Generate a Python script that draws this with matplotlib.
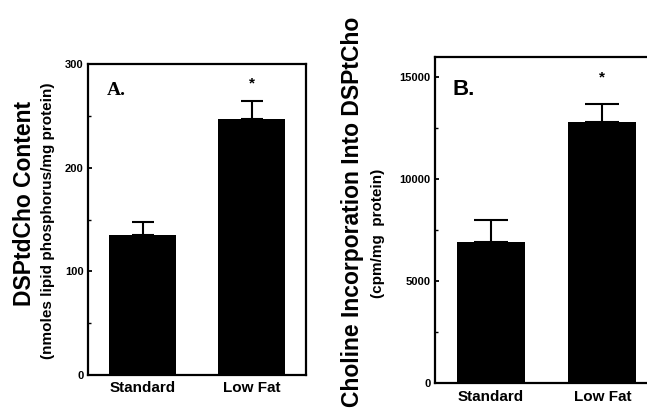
import matplotlib
matplotlib.use("Agg")
import matplotlib.pyplot as plt
from matplotlib.ticker import MultipleLocator

plt.rcParams['font.family'] = ['Liberation Sans', 'DejaVu Sans']
plt.rcParams['font.weight'] = 'bold'

groups = ['Standard', 'Low Fat']

# panel A: DSPtdCho content
content = [135, 247]
content_err = [13, 17]

# panel B: choline incorporation
incorp = [6900, 12800]
incorp_err = [1100, 900]

W, H = 647, 412
fig = plt.figure(figsize=(W / 100, H / 100), dpi=100)


def style(ax, major, minor, pad_x):
    for s in ax.spines.values():
        s.set_linewidth(1.6)
    ax.yaxis.set_major_locator(MultipleLocator(major))
    ax.yaxis.set_minor_locator(MultipleLocator(minor))
    ax.tick_params(axis='y', which='major', direction='in', length=3, width=1.3,
                   labelsize=8, pad=3)
    ax.tick_params(axis='y', which='minor', direction='in', length=2, width=1)
    ax.tick_params(axis='x', length=0, labelsize=11, pad=pad_x)
    for lab in ax.get_yticklabels() + ax.get_xticklabels():
        lab.set_fontweight('bold')
    ax.set_xlim(-0.5, 1.5)


axA = fig.add_axes([88 / W, 1 - 375 / H, 218 / W, 311 / H])
axA.bar(range(2), content, width=0.62, color='black', zorder=3)
axA.errorbar(range(2), content, yerr=[[0, 0], content_err], fmt='none',
             ecolor='black', elinewidth=1.5, capsize=8, capthick=1.5, zorder=2)
axA.set_ylim(0, 300)
axA.set_xticks(range(2))
axA.set_xticklabels(groups)
style(axA, 100, 50, 4)
axA.text(0.085, 0.916, 'A.', transform=axA.transAxes, fontsize=14, va='center',
         fontweight='bold', family='Liberation Serif')
axA.text(1, 281, '*', ha='center', va='center', fontsize=11, fontweight='bold')

fig.text(25 / W, 1 - 203 / H, 'DSPtdCho Content', rotation=90, ha='center',
         va='center', fontsize=16.5, fontweight='bold')
fig.text(48 / W, 1 - 221 / H, '(nmoles lipid phosphorus/mg protein)', rotation=90,
         ha='center', va='center', fontsize=11, fontweight='bold')

axB = fig.add_axes([435 / W, 1 - 383 / H, 223 / W, 326 / H])
axB.bar(range(2), incorp, width=0.61, color='black', zorder=3)
axB.errorbar(range(2), incorp, yerr=[[0, 0], incorp_err], fmt='none',
             ecolor='black', elinewidth=1.5, capsize=12, capthick=1.5, zorder=2)
axB.set_ylim(0, 16000)
axB.set_xticks(range(2))
axB.set_xticklabels(groups)
style(axB, 5000, 2500, 5)
axB.text(0.08, 0.90, 'B.', transform=axB.transAxes, fontsize=16, va='center',
         fontweight='bold')
axB.text(1, 15000, '*', ha='center', va='center', fontsize=11, fontweight='bold')

fig.text(352 / W, 1 - 212 / H, 'Choline Incorporation Into DSPtCho', rotation=90,
         ha='center', va='center', fontsize=16.5, fontweight='bold')
fig.text(378 / W, 1 - 233 / H, '(cpm/mg  protein)', rotation=90,
         ha='center', va='center', fontsize=11, fontweight='bold')

fig.savefig('out.png', dpi=100)
